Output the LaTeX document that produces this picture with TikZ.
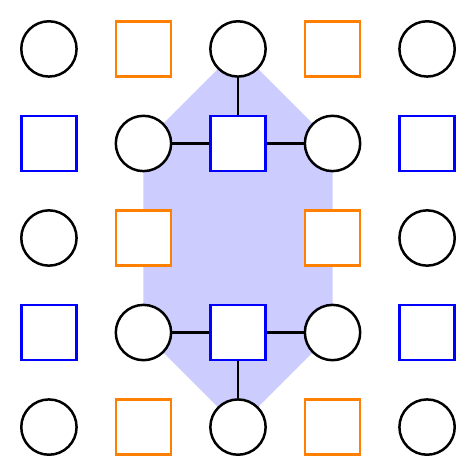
\documentclass[tikz,border=0pt]{standalone}
\usetikzlibrary{backgrounds}

\begin{document}
\begin{tikzpicture}[node distance=2cm, line width=1.5pt]

% Styles
\tikzstyle{qubit} = [draw, circle, minimum size=1.17cm, inner sep=0pt, fill=white]
\tikzstyle{xcheck} = [draw=orange, rectangle, minimum size=1.17cm, inner sep=0pt, fill=white]
\tikzstyle{zcheck} = [draw=blue, rectangle, minimum size=1.17cm, inner sep=0pt, fill=white]

\useasboundingbox (-1.035,-9.035) rectangle (9.035,1.035);

% Nodes - row 1
\node[qubit] (v11) {};
\node[xcheck, right of=v11] (v12) {};
\node[qubit, right of=v12] (v13) {};
\node[xcheck, right of=v13] (v14) {};
\node[qubit, right of=v14] (v15) {};

% Nodes - row 2
\node[zcheck, below of=v11] (v21) {};
\node[qubit, right of=v21] (v22) {};
\node[zcheck, right of=v22] (v23) {};
\node[qubit, right of=v23] (v24) {};
\node[zcheck, right of=v24] (v25) {};

% Nodes - row 3 (middle left empty)
\node[qubit, below of=v21] (v31) {};
\node[xcheck, right of=v31] (v32) {};
\node[xcheck, right of=v32, node distance=4cm] (v34) {};
\node[qubit, right of=v34] (v35) {};

% Nodes - row 4
\node[zcheck, below of=v31] (v41) {};
\node[qubit, right of=v41] (v42) {};
\node[zcheck, right of=v42] (v43) {};
\node[qubit, right of=v43] (v44) {};
\node[zcheck, right of=v44] (v45) {};

% Nodes - row 5
\node[qubit, below of=v41] (v51) {};
\node[xcheck, right of=v51] (v52) {};
\node[qubit, right of=v52] (v53) {};
\node[xcheck, right of=v53] (v54) {};
\node[qubit, right of=v54] (v55) {};

% Shaded region
\begin{scope}[on background layer]
\fill[blue!20] (v13.center) -- (v22.center) -- (v42.center) -- (v53.center) -- (v44.center) -- (v24.center) -- cycle;
\end{scope}

% Connections
\draw (v13) -- (v23);
\draw (v22) -- (v23);
\draw (v23) -- (v24);
\draw (v42) -- (v43);
\draw (v43) -- (v44);
\draw (v43) -- (v53);

\end{tikzpicture}
\end{document}
